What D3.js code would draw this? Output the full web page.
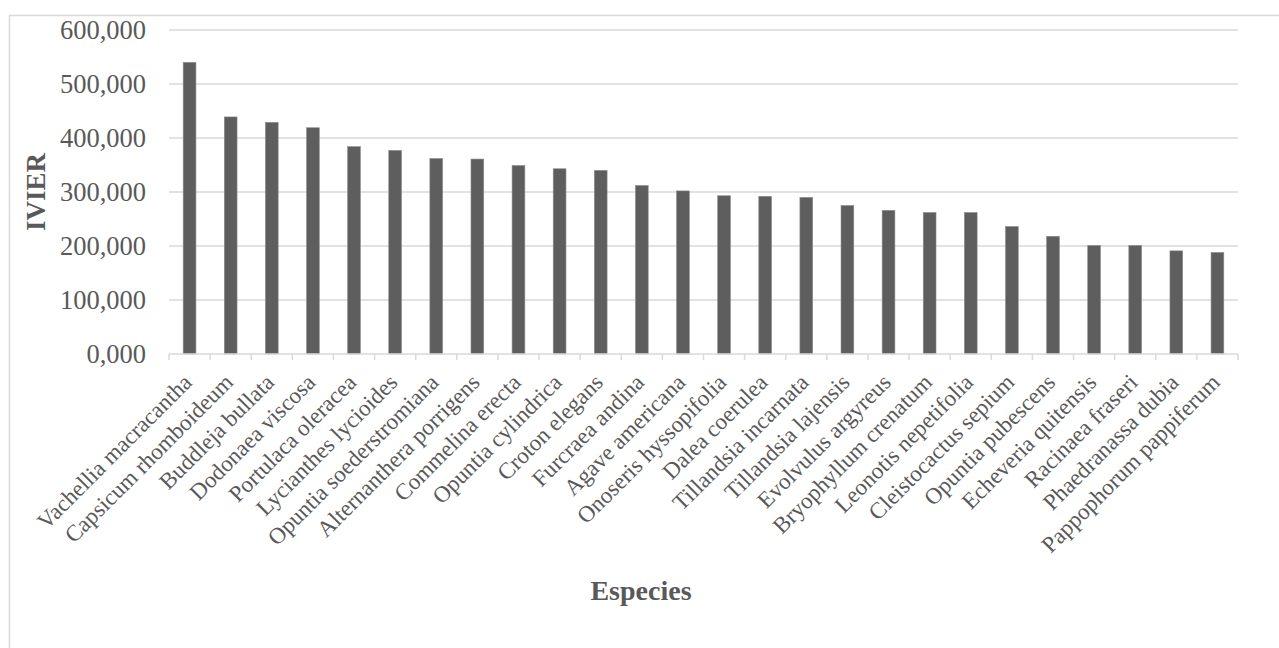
<!DOCTYPE html>
<html>
<head>
<meta charset="utf-8">
<script src="https://cdn.jsdelivr.net/npm/d3@7"></script>
<style>
  body { margin: 0; background: #fff; }
  svg { display: block; }
  text { font-family: "Liberation Serif", "Times New Roman", serif; fill: #595959; }
</style>
</head>
<body>
<div id="chart"></div>
<script>
// species and IVIER values
const especies = [
  'Vachellia macracantha', 'Capsicum rhomboideum', 'Buddleja bullata', 'Dodonaea viscosa',
  'Portulaca oleracea', 'Lycianthes lycioides', 'Opuntia soederstromiana', 'Alternanthera porrigens',
  'Commelina erecta', 'Opuntia cylindrica', 'Croton elegans', 'Furcraea andina',
  'Agave americana', 'Onoseris hyssopifolia', 'Dalea coerulea', 'Tillandsia incarnata',
  'Tillandsia lajensis', 'Evolvulus argyreus', 'Bryophyllum crenatum', 'Leonotis nepetifolia',
  'Cleistocactus sepium', 'Opuntia pubescens', 'Echeveria quitensis', 'Racinaea fraseri',
  'Phaedranassa dubia', 'Pappophorum pappiferum'
];
const ivier = [
  540, 439, 429, 419, 384, 377, 362, 361, 349, 343, 340, 312, 302,
  293, 292, 290, 275, 266, 262, 262, 236, 218, 201, 201, 191, 188
];
const yTicks = [0, 100, 200, 300, 400, 500, 600];

const width = 1279, height = 648;
const margin = { top: 30, right: 41, bottom: 294, left: 169 };

const svg = d3.select('#chart').append('svg')
  .attr('width', width)
  .attr('height', height);

// chart area border (runs off the right and bottom of the picture)
svg.append('rect')
  .attr('x', 9.5).attr('y', 15.5)
  .attr('width', 1300).attr('height', 700)
  .attr('fill', 'none')
  .attr('stroke', '#d9d9d9')
  .attr('stroke-width', 1.5);

const x = d3.scaleBand()
  .domain(especies)
  .range([margin.left, width - margin.right])
  .paddingInner(0.69)
  .paddingOuter(0.345);

const y = d3.scaleLinear()
  .domain([0, 600])
  .range([height - margin.bottom, margin.top]);

// gridlines
svg.append('g')
  .selectAll('line')
  .data(yTicks.filter(d => d > 0))
  .join('line')
  .attr('x1', margin.left).attr('x2', width - margin.right)
  .attr('y1', d => y(d)).attr('y2', d => y(d))
  .attr('stroke', '#d9d9d9')
  .attr('stroke-width', 1.5);

// y tick labels
const fmt = d => d3.format(',')(d) + ',000';
svg.append('g')
  .selectAll('text')
  .data(yTicks)
  .join('text')
  .attr('x', 146)
  .attr('y', d => y(d))
  .attr('dy', '0.34em')
  .attr('text-anchor', 'end')
  .style('font-size', '26.5px')
  .text(d => d === 0 ? '0,000' : fmt(d));

// bars
svg.append('g')
  .selectAll('rect')
  .data(ivier)
  .join('rect')
  .attr('x', (d, i) => x(especies[i]))
  .attr('y', d => y(d))
  .attr('width', x.bandwidth())
  .attr('height', d => y(0) - y(d))
  .attr('fill', '#5e5e5e')
  .attr('stroke', '#8a8a8a')
  .attr('stroke-width', 0.6);

// x axis line and ticks
const step = x.step();
const xAxis = svg.append('g');
xAxis.append('line')
  .attr('x1', margin.left).attr('x2', width - margin.right)
  .attr('y1', y(0)).attr('y2', y(0))
  .attr('stroke', '#d9d9d9')
  .attr('stroke-width', 1.5);
xAxis.selectAll('line.tick')
  .data(d3.range(especies.length + 1))
  .join('line')
  .attr('class', 'tick')
  .attr('x1', i => margin.left + i * step)
  .attr('x2', i => margin.left + i * step)
  .attr('y1', y(0)).attr('y2', y(0) + 6)
  .attr('stroke', '#d9d9d9')
  .attr('stroke-width', 1.5);

// rotated species labels
svg.append('g')
  .selectAll('text')
  .data(especies)
  .join('text')
  .attr('transform', d => `translate(${x(d) + x.bandwidth() / 2 - 2},${y(0) + 24}) rotate(-45)`)
  .attr('text-anchor', 'end')
  .attr('dy', '0.35em')
  .style('font-size', '23px')
  .text(d => d);

// axis titles
svg.append('text')
  .attr('transform', `translate(45,${y(300)}) rotate(-90)`)
  .attr('text-anchor', 'middle')
  .style('font-size', '27px')
  .style('font-weight', 'bold')
  .text('IVIER');

svg.append('text')
  .attr('x', 641)
  .attr('y', 600)
  .attr('text-anchor', 'middle')
  .style('font-size', '28px')
  .style('font-weight', 'bold')
  .text('Especies');
</script>
</body>
</html>
